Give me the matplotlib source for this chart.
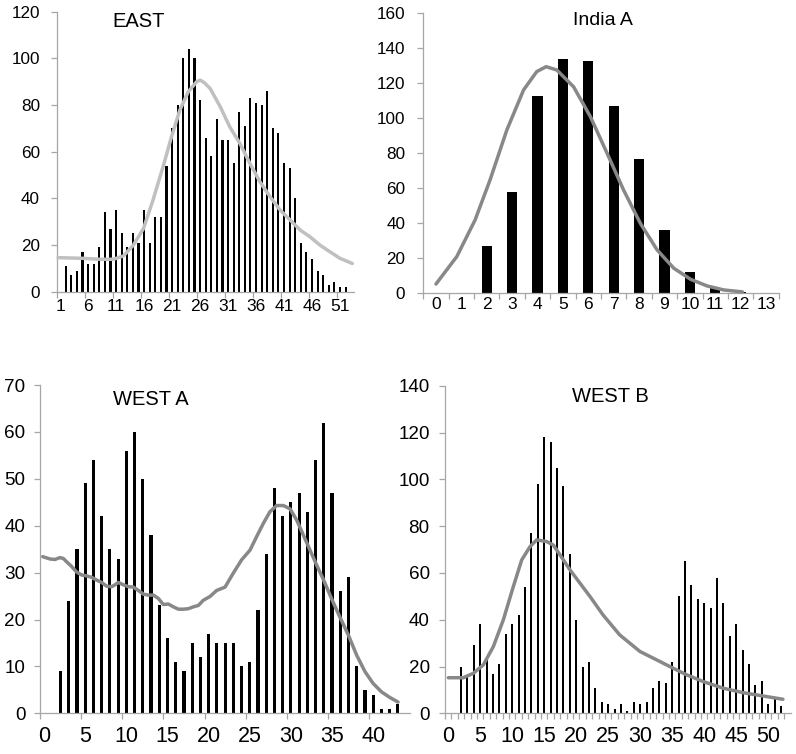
import matplotlib
matplotlib.use('Agg')
import matplotlib.pyplot as plt

plt.rcParams['font.family'] = ['Liberation Sans', 'DejaVu Sans']

# ---------------- data ----------------
# EAST: categories 1..53
east_cats = list(range(1, 54))
east_counts = [0, 11, 7, 9, 17, 12, 12, 19, 34, 27, 35, 25, 19, 25, 21, 35, 21, 32, 32, 54,
               70, 80, 100, 104, 100, 82, 66, 58, 74, 65, 65, 55, 77, 71, 83, 81, 80, 86, 70,
               68, 55, 53, 40, 21, 17, 14, 9, 7, 3, 4, 2, 2, 0]
east_curve_x = [0.62, 5.1, 8.1, 10.5, 12.3, 14.1, 15.9, 17.6, 19.4, 20.9, 22.4, 23.9, 25.4,
                26.0, 26.8, 27.8, 29.6, 31.3, 33.1, 34.9, 36.7, 38.5, 40.3, 42.1, 43.9, 45.6,
                47.4, 49.2, 51.0, 53.2]
east_curve_y = [14.6, 14.3, 13.9, 13.9, 15.3, 20, 27.1, 39.3, 53.6, 66.4, 77.9, 85.7, 90,
                90.7, 89.5, 87.1, 79.3, 70.7, 63.6, 55, 47.1, 40.7, 35, 30.7, 26.4, 23.6,
                20, 17.1, 14.3, 12.1]

# India A: categories 0..13
india_cats = list(range(0, 14))
india_counts = [0, 0, 27, 58, 113, 134, 133, 107, 77, 36, 12, 3, 1, 0]
india_curve_x = [0, 0.82, 1.54, 2.13, 2.79, 3.45, 3.97, 4.34, 4.76, 5.42, 6.08, 6.74, 7.39,
                 8.05, 8.71, 9.37, 10.03, 10.68, 11.34, 12.07]
india_curve_y = [5.3, 21, 41.9, 64.8, 93.3, 116.2, 126.7, 129.5, 127.6, 118, 101, 80, 59,
                 40, 24.8, 14.3, 8, 4.2, 1.9, 0.8]

# WEST A: categories 0..44
westa_cats = list(range(0, 45))
westa_counts = [0, 0, 9, 24, 35, 49, 54, 42, 35, 33, 56, 60, 50, 38, 23, 16, 11, 9, 15, 12,
                17, 15, 15, 15, 10, 11, 22, 34, 48, 42, 45, 47, 43, 54, 62, 47, 26, 29, 10,
                5, 4, 1, 1, 2, 0]
westa_curve_x = [-0.17, 0.72, 1.32, 1.93, 2.34, 2.74, 3.35, 3.96, 4.56, 5.17, 5.78, 6.39,
                 7.0, 7.6, 8.21, 8.62, 9.02, 9.63, 10.24, 10.85, 11.45, 12.06, 12.67, 13.28,
                 13.88, 14.49, 15.1, 15.71, 16.32, 16.92, 17.53, 18.14, 18.75, 19.35, 20.16,
                 20.98, 21.99, 23.0, 24.0, 25.03, 25.84, 26.65, 27.46, 28.27, 29.08, 29.89,
                 30.7, 31.51, 32.32, 33.13, 33.98, 35.0, 36.01, 36.98, 37.99, 39.0, 39.98,
                 40.99, 42.0, 43.02]
westa_curve_y = [33.4, 32.9, 32.8, 33.2, 33.0, 32.3, 31.3, 30.1, 29.5, 29.3, 29.0, 28.4,
                 27.9, 27.1, 27.0, 27.4, 27.9, 27.4, 27.0, 26.9, 26.2, 25.4, 25.2, 25.2,
                 24.5, 23.2, 23.3, 22.7, 22.2, 22.2, 22.3, 22.7, 23.0, 24.1, 24.9,
                 26.2, 26.9, 29.9, 32.7, 34.8, 37.7, 40.5, 43.0, 44.3, 44.3, 43.6,
                 41.2, 38.0, 34.8, 31.6, 28.4, 24.2, 20.3, 16.7, 12.4, 8.9, 6.4,
                 4.6, 3.4, 2.4]

# WEST B: categories 0..53
westb_cats = list(range(0, 54))
westb_counts = [0, 0, 20, 16, 29, 38, 23, 17, 21, 34, 38, 42, 54, 77, 98, 118, 116, 105, 97,
                68, 40, 20, 22, 11, 5, 4, 2, 4, 1, 5, 4, 5, 11, 14, 13, 22, 50, 65, 55, 49,
                47, 45, 58, 47, 33, 38, 27, 21, 12, 14, 4, 6, 3, 0]
westb_curve_x = [0.02, 2.36, 3.93, 5.49, 7.05, 8.61, 10.17, 11.48, 12.78, 13.82, 15.39,
                 16.42, 17.47, 19.03, 20.59, 22.16, 24.2, 26.8, 29.97, 33.1, 35.2, 37.3,
                 39.9, 43.0, 46.1, 49.2, 52.3]
westb_curve_y = [15.2, 15.2, 17.1, 20.7, 28.5, 39.9, 54.1, 65.5, 71.2, 74.1, 73.4, 71.9,
                 67.7, 61.3, 55.6, 49.9, 42, 33.5, 26.4, 22.1, 19.2, 16.4, 13.5, 10.7, 8.8,
                 7.4, 6.0]

# ---------------- figure ----------------
W, H = 796, 754
fig = plt.figure(figsize=(W / 100, H / 100), dpi=100)
axis_grey = '#A6A6A6'


def make_axes(left, top, right, bottom):
    ax = fig.add_axes([left / W, 1 - bottom / H, (right - left) / W, (bottom - top) / H])
    for s in ['top', 'right']:
        ax.spines[s].set_visible(False)
    for s in ['left', 'bottom']:
        ax.spines[s].set_color(axis_grey)
        ax.spines[s].set_linewidth(0.9)
    return ax


def panel(ax, cats, counts, cx, cy, ymax, ystep, tick_every, label_every, bar_w,
          line_col, ysize, xsize, ypad, xpad, label_start):
    ax.bar(cats, counts, width=bar_w, color='black', zorder=2)
    ax.plot(cx, cy, color=line_col, lw=2.5, zorder=3, solid_capstyle='round', clip_on=False)
    ax.set_xlim(cats[0] - 0.5, cats[-1] + 0.5)
    ax.set_ylim(0, ymax)
    ax.set_yticks(range(0, ymax + 1, ystep))
    ax.tick_params(axis='y', length=4, width=0.9, color=axis_grey, labelsize=ysize, pad=ypad)
    # tick marks on category boundaries
    bounds = [c - 0.5 for c in cats[::tick_every]]
    ax.set_xticks(bounds)
    ax.set_xticklabels([])
    ax.tick_params(axis='x', which='major', length=4, width=0.9, color=axis_grey)
    # labels at category centres
    lab = [c for c in cats if (c - label_start) % label_every == 0 and c >= label_start]
    ax.set_xticks(lab, [str(c) for c in lab], minor=True)
    ax.tick_params(axis='x', which='minor', length=0, labelsize=xsize, pad=xpad)


ax1 = make_axes(57.3, 11.7, 354, 291.7)
panel(ax1, east_cats, east_counts, east_curve_x, east_curve_y, 120, 20, 5, 5, 0.38,
      '#C0C0C0', 12.3, 12.5, 8.5, 5.5, 1)
ax1.set_xticks([c - 0.5 for c in east_cats[:51:5]])
ax1.set_xticklabels([])

ax2 = make_axes(423.3, 13.3, 778.7, 293.3)
panel(ax2, india_cats, india_counts, india_curve_x, india_curve_y, 160, 20, 1, 1, 0.4,
      '#888888', 12.3, 12.5, 9, 3, 0)
ax2.set_xticks([c - 0.5 for c in india_cats] + [13.5])
ax2.set_xticklabels([])

ax3 = make_axes(40, 385, 410.2, 713.3)
panel(ax3, westa_cats, westa_counts, westa_curve_x, westa_curve_y, 70, 10, 5, 5, 0.38,
      '#888888', 13.6, 15.5, 6.5, 9, 0)

ax4 = make_axes(445, 385.7, 790.6, 713.3)
panel(ax4, westb_cats, westb_counts, westb_curve_x, westb_curve_y, 140, 20, 1, 5, 0.33,
      '#888888', 13.6, 15.5, 7, 9, 0)

# titles
fig.text(138.5 / W, 1 - 26.7 / H, 'EAST', ha='center', va='baseline', fontsize=14.5)
fig.text(602.7 / W, 1 - 25 / H, 'India A', ha='center', va='baseline', fontsize=14)
fig.text(150.8 / W, 1 - 405 / H, 'WEST A', ha='center', va='baseline', fontsize=14.5)
fig.text(610 / W, 1 - 401.7 / H, 'WEST B', ha='center', va='baseline', fontsize=14.5)

fig.savefig('out.png', dpi=100)
